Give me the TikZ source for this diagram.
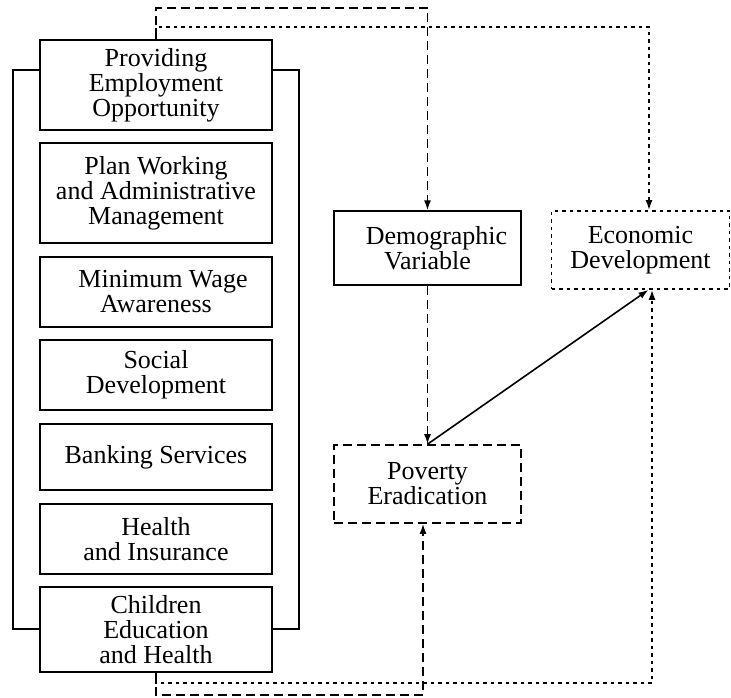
\documentclass[tikz,border=0pt]{standalone}
\usepackage{fontspec}
\setmainfont{Liberation Serif}
\usetikzlibrary{arrows.meta}
\begin{document}
\begin{tikzpicture}[x=1pt,y=1pt,
  box/.style={draw,line width=1.3pt,align=center,inner sep=0pt,font=\fontsize{26}{25}\selectfont},
  dsh/.style={line width=1.6pt,dash pattern=on 9pt off 5pt},
  dtt/.style={line width=1.8pt,dash pattern=on 3.5pt off 4pt},
  tip/.style={-{Latex[length=10pt,width=7pt]}},
  frame/.style={line width=1.3pt}]
\useasboundingbox (0,0) rectangle (731,698);
\node[box,minimum width=232,minimum height=90] (b1) at (156,613) {Providing\\Employment\\Opportunity};
\node[box,minimum width=232,minimum height=100] (b2) at (156,505) {Plan Working\\and Administrative\\Management};
\node[box,minimum width=232,minimum height=70] (b3) at (156,406) {\hspace*{14pt}Minimum Wage\\Awareness};
\node[box,minimum width=232,minimum height=70] (b4) at (156,323) {Social\\Development};
\node[box,minimum width=232,minimum height=66] (b5) at (156,241) {Banking Services};
\node[box,minimum width=232,minimum height=70] (b6) at (156,159) {Health\\and Insurance};
\node[box,minimum width=232,minimum height=85] (b7) at (156,68.5) {Children\\Education\\and Health};
\node[box,minimum width=187,minimum height=74] (demo) at (427.5,450) {\hspace*{18pt}Demographic\\Variable};
\node[box,dtt,line width=1.6pt,minimum width=178,minimum height=78] (econ) at (640.5,448) {Economic\\Development};
\node[box,dsh,minimum width=187,minimum height=78] (pov) at (427.5,214) {Poverty\\Eradication};
% bracket frame
\draw[frame] (b1.west |- 0,628) -- (13,628) -- (13,69) -- (b7.west |- 0,69);
\draw[frame] (b1.east |- 0,628) -- (299,628) -- (299,69) -- (b7.east |- 0,69);
% top connectors
\draw[dtt,tip] (b1.north) -- (156,671) -| ([xshift=8.5]econ.north);
\draw[dsh,tip] (b1.north) -- (156,690) -| (demo.north);
% middle
\draw[dsh,tip] (demo.south) -- (pov.north);
\draw[line width=1.6pt,tip] (pov.north) -- ([xshift=8]econ.south);
% bottom connectors
\draw[dtt,tip] (b7.south) -- (156,15) -| ([xshift=11.5]econ.south);
\draw[dsh,tip] (b7.south) -- (156,3) -| ([xshift=-4.5]pov.south);
\end{tikzpicture}
\end{document}
